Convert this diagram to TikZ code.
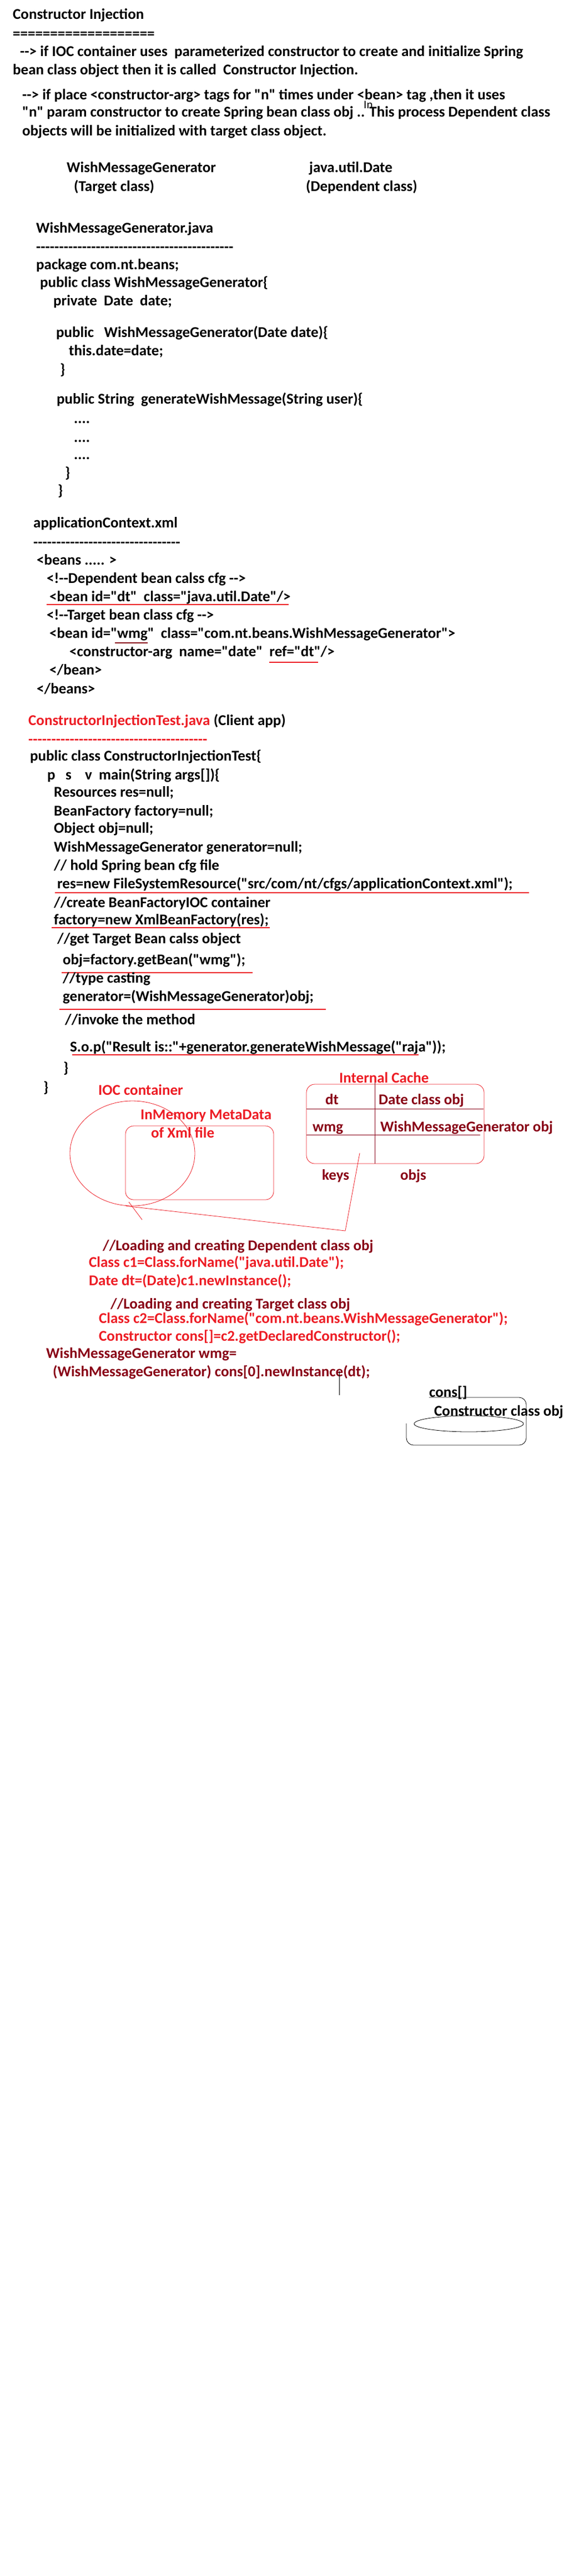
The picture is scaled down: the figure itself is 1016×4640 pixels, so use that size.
\documentclass[tikz,border=0pt]{standalone}
\usepackage{fontspec}
\usetikzlibrary{shapes.geometric}
\newfontfamily\calfont{Carlito}
\definecolor{pred}{HTML}{ED1C24}
\definecolor{pdark}{HTML}{880015}
\tikzset{
  txt/.style={font=\calfont\bfseries\fontsize{27}{30}\selectfont, inner sep=0pt, anchor=base west},
  rtxt/.style={txt, text=pred},
  dtxt/.style={txt, text=pdark},
  uline/.style={pred, line width=1.5pt},
  thinline/.style={pred, line width=0.8pt}
}
\begin{document}
\begin{tikzpicture}[x=1pt,y=-1pt]

          \path[use as bounding box, fill=white] (0,0) rectangle (1016,4640);

          % intro
          \node[txt] (title) at (23,34) {Constructor Injection};
          \node[txt] (titlerule) at (23,69) {===================};
          \node[txt] (intro1) at (36,101) {--> if IOC container uses\ \ parameterized constructor to create and initialize Spring};
          \node[txt] (intro2) at (23,134) {bean class object then it is called\ \ Constructor Injection.};
          \node[txt] (intro3) at (40,179) {--> if place <constructor-arg> tags for "n" times under <bean> tag ,then it uses};
          \node[font=\calfont\fontsize{21}{24}\selectfont, inner sep=0pt, anchor=base west] (stray) at (655,195) {In};
          \node[txt] (intro4) at (40,210) {"n" param constructor to create Spring bean class obj .. This process Dependent class};
          \node[txt] (intro5) at (40,244) {objects will be initialized with target class object.};

          \node[txt] (target) at (120,310) {WishMessageGenerator};
          \node[txt] (targetc) at (133,344) {(Target class)};
          \node[txt] (depend) at (557,310) {java.util.Date};
          \node[txt] (dependc) at (551,344) {(Dependent class)};

          % WishMessageGenerator.java
          \node[txt] (wmgfile) at (65,419) {WishMessageGenerator.java};
          \node[txt] (wmgrule) at (65,453) {-------------------------------------------};
          \node[txt] (wmg1) at (65,485) {package com.nt.beans;};
          \node[txt] (wmg2) at (72,517) {public class WishMessageGenerator\{};
          \node[txt] (wmg3) at (96,550) {private\ \ Date\ \ date;};
          \node[txt] (wmg4) at (101,607) {public\ \ \ WishMessageGenerator(Date date)\{};
          \node[txt] (wmg5) at (124,640) {this.date=date;};
          \node[txt] (wmg6) at (108,674) {\}};
          \node[txt] (wmg7) at (102,727) {public String\ \ generateWishMessage(String user)\{};
          \foreach \y/\n in {762/1,796/2,827/3}
          {
            \node[txt] (dots\n) at (133,\y) {....};
          }
          \node[txt] (wmg8) at (117,860) {\}};
          \node[txt] (wmg9) at (104,892) {\}};

          % applicationContext.xml
          \node[txt] (xmlfile) at (60,950) {applicationContext.xml};
          \node[txt] (xmlrule) at (60,985) {--------------------------------};
          \node[txt] (xml1) at (66,1017) {<beans ..... >};
          \node[txt] (xml2) at (84,1050) {<!--Dependent bean calss cfg -->};
          \node[txt] (xml3) at (89,1083) {<bean id="dt"\ \ class="java.util.Date"/>};
          \draw[uline] (84,1089) -- (520,1089);
          \node[txt] (xml4) at (84,1116) {<!--Target bean class cfg -->};
          \node[txt] (xml5) at (89,1149) {<bean id="wmg"\ \ class="com.nt.beans.WishMessageGenerator">};
          \draw[pdark, line width=1.5pt] (207,1158) -- (266,1158);
          \node[txt] (xml6) at (125,1182) {<constructor-arg\ \ name="date"\ \ ref="dt"/>};
          \draw[uline] (485,1193) -- (573,1193);
          \node[txt] (xml7) at (89,1215) {</bean>};
          \node[txt] (xml8) at (66,1249) {</beans>};

          % client app
          \node[rtxt] (clifile) at (51,1306) {ConstructorInjectionTest.java};
          \node[txt] (cliapp) at ([xshift=6pt]clifile.base east) {(Client app)};
          \node[rtxt] (clirule) at (51,1340) {---------------------------------------};
          \node[txt] (cli1) at (54,1370) {public class ConstructorInjectionTest\{};
          \node[txt] (cli2) at (85,1404) {p\ \ \ s\ \ \ \ v\ \ main(String args[])\{};
          \node[txt] (cli3) at (97,1435) {Resources res=null;};
          \node[txt] (cli4) at (97,1469) {BeanFactory factory=null;};
          \node[txt] (cli5) at (97,1500) {Object obj=null;};
          \node[txt] (cli6) at (97,1534) {WishMessageGenerator generator=null;};
          \node[txt] (cli7) at (97,1567) {// hold Spring bean cfg file};
          \node[txt] (cli8) at (103,1600) {res=new FileSystemResource("src/com/nt/cfgs/applicationContext.xml");};
          \draw[uline] (99,1608) -- (953,1608);
          \node[txt] (cli9) at (97,1634) {//create BeanFactoryIOC container};
          \node[txt] (cli10) at (97,1665) {factory=new XmlBeanFactory(res);};
          \draw[uline] (93,1671) -- (486,1671);
          \node[txt] (cli11) at (103,1699) {//get Target Bean calss object};
          \node[txt] (cli12) at (113,1737) {obj=factory.getBean("wmg");};
          \draw[uline] (111,1752) -- (455,1752);
          \node[txt] (cli13) at (113,1770) {//type casting};
          \node[txt] (cli14) at (113,1803) {generator=(WishMessageGenerator)obj;};
          \draw[uline] (107,1818) -- (587,1818);
          \node[txt] (cli15) at (117,1845) {//invoke the method};
          \node[txt] (cli16) at (126,1894) {S.o.p("Result is::"+generator.generateWishMessage("raja"));};
          \draw[uline] (130,1900) -- (754,1900);
          \node[txt] (cli17) at (114,1932) {\}};
          \node[txt] (cli18) at (78,1967) {\}};

          % IOC container
          \node[rtxt] (ioclbl) at (177,1972) {IOC container};
          \node[draw=pred, line width=0.8pt, ellipse, minimum width=225pt, minimum height=189pt, inner sep=0pt] (ioc) at (238.5,2077.5) {};
          \node[rtxt] (metalbl1) at (253,2016) {InMemory MetaData};
          \node[rtxt] (metalbl2) at (272,2049) {of Xml file};
          \node[draw=pred, line width=0.8pt, rounded corners=15pt, minimum width=267pt, minimum height=133pt, inner sep=0pt] (meta) at (359.5,2094.5) {};

          % internal cache
          \node[rtxt] (cachelbl) at (611,1950) {Internal Cache};
          \node[draw=pred, line width=0.8pt, rounded corners=15pt, minimum width=320pt, minimum height=143pt, inner sep=0pt] (cache) at (712,2024.5) {};
          \draw[pdark, line width=1pt] (675,1950) -- (675,2096);
          \draw[pdark, line width=1pt] (552,1997) -- (871,1997);
          \draw[pdark, line width=1pt] (552,2044) -- (865,2044);
          \node[dtxt] (keydt) at (586,1989) {dt};
          \node[dtxt] (objdt) at (682,1989) {Date class obj};
          \node[dtxt] (keywmg) at (563,2038) {wmg};
          \node[dtxt] (objwmg) at (685,2038) {WishMessageGenerator obj};
          \node[dtxt] (keys) at (580,2125) {keys};
          \node[dtxt] (objs) at (721,2125) {objs};

          \coordinate (bend) at (622,2217);
          \coordinate (tip) at (648,2077);
          \draw[thinline] ([xshift=-11pt]ioc.south) -- (bend) -- (tip);
          \draw[thinline] (232,2165) -- (256,2197);

          % loading
          \node[dtxt] (load1) at (185,2252) {//Loading and creating Dependent class obj};
          \node[rtxt] (load2) at (160,2282) {Class c1=Class.forName("java.util.Date");};
          \node[rtxt] (load3) at (160,2315) {Date dt=(Date)c1.newInstance();};
          \node[dtxt] (load4) at (199,2357) {//Loading and creating Target class obj};
          \node[rtxt] (load5) at (178,2383) {Class c2=Class.forName("com.nt.beans.WishMessageGenerator");};
          \node[rtxt] (load6) at (178,2415) {Constructor cons[]=c2.getDeclaredConstructor();};
          \node[dtxt] (load7) at (83,2446) {WishMessageGenerator wmg=};
          \node[dtxt] (load8) at (95,2479) {(WishMessageGenerator) cons[0].newInstance(dt);};
          \draw[line width=0.8pt] (611,2470) -- (611,2513);

          % cons[]
          \node[txt] (conslbl) at (773,2516) {cons[]};
          \node[txt] (consobj) at (782,2550) {Constructor class obj};
          \draw[line width=0.8pt, rounded corners=13pt] (773,2517) -- (948,2517) -- (948,2603) -- (732,2603) -- (732,2564);
          \node[draw, line width=0.8pt, ellipse, minimum width=197pt, minimum height=29pt, inner sep=0pt] (consell) at (844.5,2564.5) {};

         \end{tikzpicture}
\end{document}
